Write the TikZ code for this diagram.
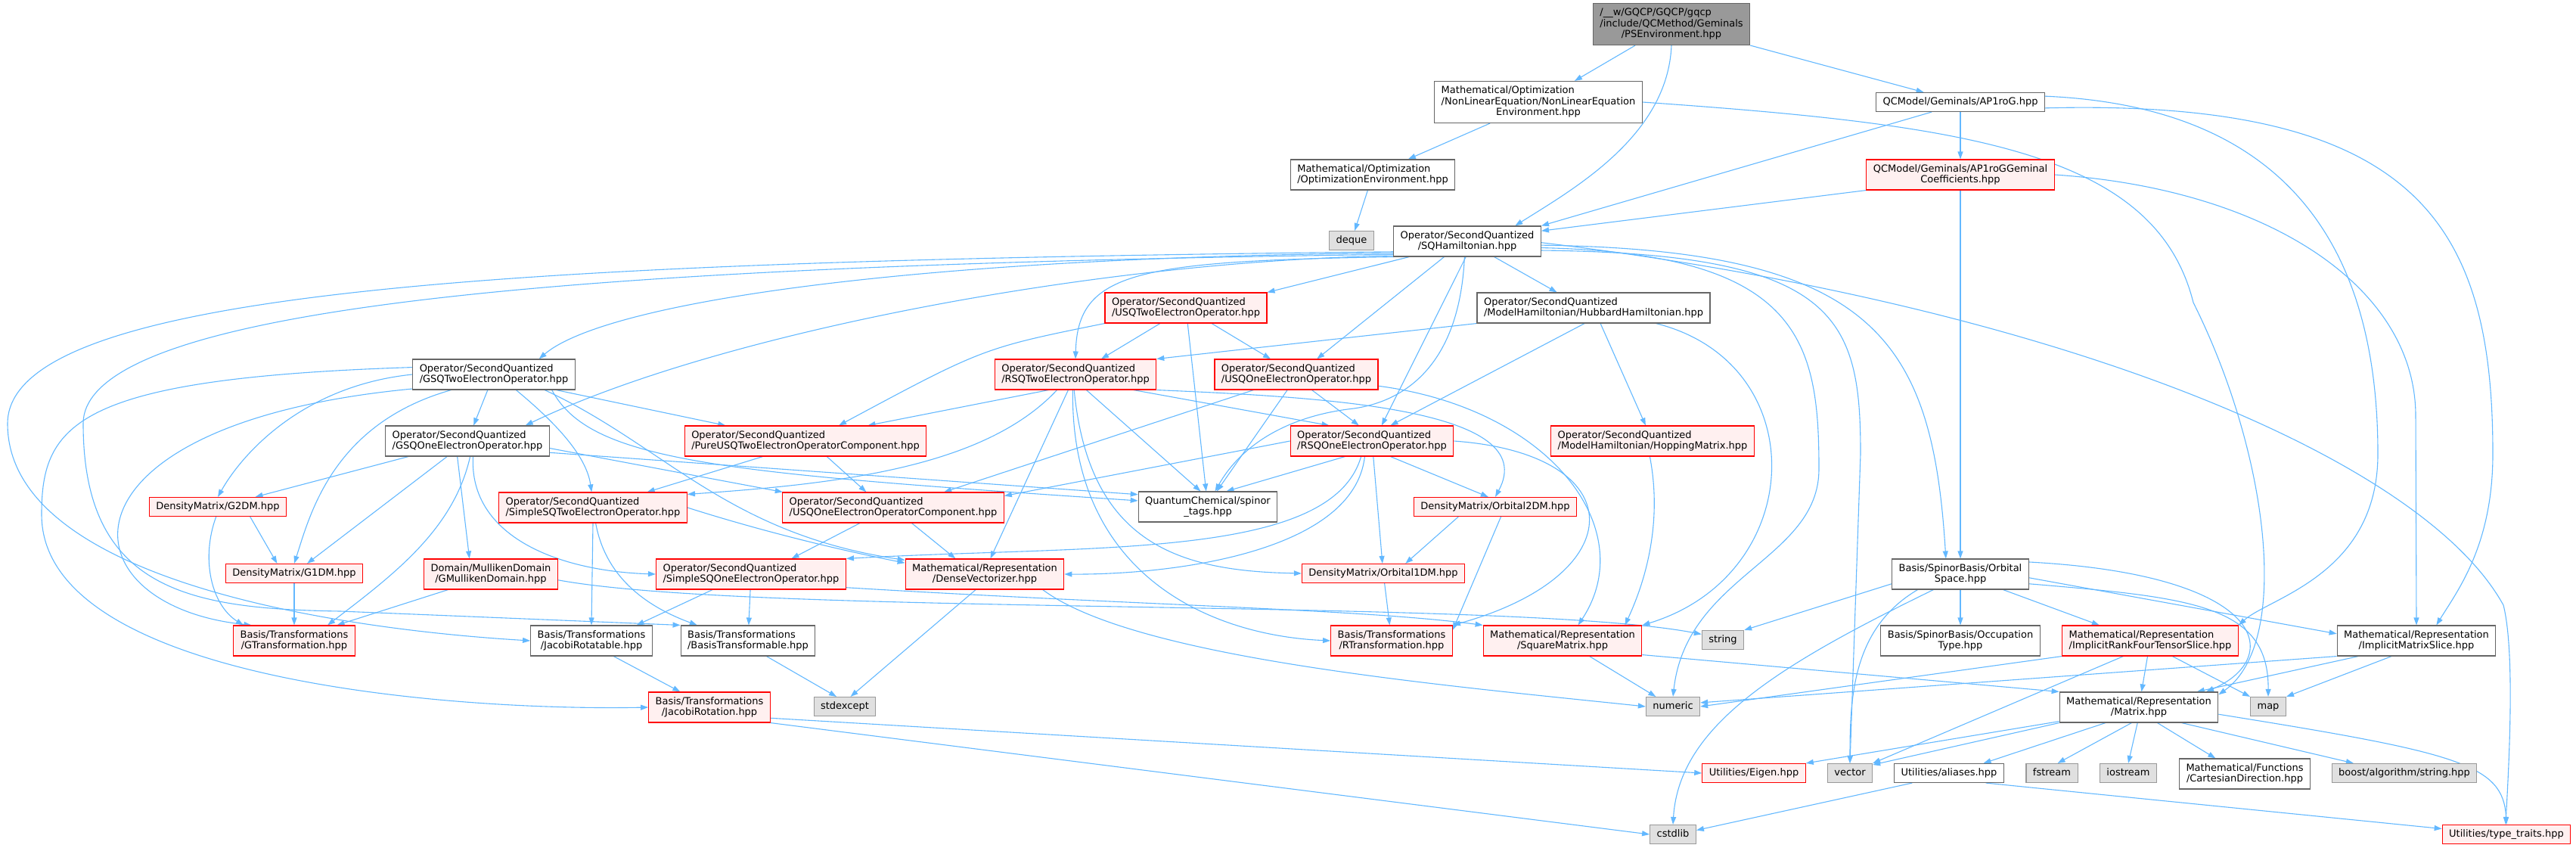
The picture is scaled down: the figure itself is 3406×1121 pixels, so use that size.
\documentclass[tikz,border=0pt]{standalone}
\usepackage{fontspec}
\setmainfont{DejaVu Sans}
\usetikzlibrary{arrows.meta}
\definecolor{depblue}{HTML}{63B8FF}
\definecolor{boxgray}{HTML}{666666}
\definecolor{truncpink}{HTML}{FFF0F0}
\definecolor{sysgray}{HTML}{999999}
\definecolor{sysfill}{HTML}{E0E0E0}
\definecolor{focusgray}{HTML}{999999}
\pgfdeclarelayer{edges}
\pgfsetlayers{edges,main}
\newcommand{\fstrut}{\rule[-3.9pt]{0pt}{14.3pt}}
\renewcommand{\arraystretch}{0}
\newcommand{\hdrone}[1]{\begin{tabular}{@{}c@{}}\fstrut#1\end{tabular}}
\newcommand{\hdrtwo}[2]{\begin{tabular}{@{}l@{}}\fstrut#1\\\multicolumn{1}{@{}c@{}}{\fstrut#2}\end{tabular}}
\newcommand{\hdrthree}[3]{\begin{tabular}{@{}l@{}}\fstrut#1\\\fstrut#2\\\multicolumn{1}{@{}c@{}}{\fstrut#3}\end{tabular}}

\begin{document}
\begin{tikzpicture}[x=1pt,y=1pt,
    hdrbox/.style={draw=boxgray,fill=white,line width=1.1pt,inner xsep=9pt,inner ysep=4pt,
      minimum height=25pt,font=\fontsize{13}{14.3}\selectfont},
    trunc/.style={hdrbox,draw=red,fill=truncpink},
    sys/.style={hdrbox,draw=sysgray,fill=sysfill},
    focus/.style={hdrbox,fill=focusgray},
    two/.style={minimum height=40pt},
    three/.style={minimum height=55pt},
    dep/.style={draw=depblue,line width=1.1pt,-{Triangle[length=10pt,width=7pt]}}]
  \useasboundingbox (0,0) rectangle (3406,-1121);
  % rows from top to bottom
  \node[focus,three] (root) at (2210,-32) {\hdrthree{/\_\_w/GQCP/GQCP/gqcp}{/include/QCMethod/Geminals}{/PSEnvironment.hpp}};
  \node[hdrbox,three] (nle) at (2034,-135) {\hdrthree{Mathematical/Optimization}{/NonLinearEquation/NonLinearEquation}{Environment.hpp}};
  \node[hdrbox] (ap1rog) at (2592,-135) {\hdrone{QCModel/Geminals/AP1roG.hpp}};
  \node[hdrbox,two] (optenv) at (1815,-231) {\hdrtwo{Mathematical/Optimization}{/OptimizationEnvironment.hpp}};
  \node[trunc,two] (ap1rogcoef) at (2592,-231) {\hdrtwo{QCModel/Geminals/AP1roGGeminal}{Coefficients.hpp}};
  \node[sys] (deque) at (1787,-318) {\hdrone{deque}};
  \node[hdrbox,two] (sqham) at (1940,-319) {\hdrtwo{Operator/SecondQuantized}{/SQHamiltonian.hpp}};
  \node[trunc,two] (usqtwo) at (1568,-407) {\hdrtwo{Operator/SecondQuantized}{/USQTwoElectronOperator.hpp}};
  \node[hdrbox,two] (hubbard) at (2107,-407) {\hdrtwo{Operator/SecondQuantized}{/ModelHamiltonian/HubbardHamiltonian.hpp}};
  \node[hdrbox,two] (gsqtwo) at (653,-495) {\hdrtwo{Operator/SecondQuantized}{/GSQTwoElectronOperator.hpp}};
  \node[trunc,two] (rsqtwo) at (1422,-495) {\hdrtwo{Operator/SecondQuantized}{/RSQTwoElectronOperator.hpp}};
  \node[trunc,two] (usqone) at (1714,-495) {\hdrtwo{Operator/SecondQuantized}{/USQOneElectronOperator.hpp}};
  \node[hdrbox,two] (gsqone) at (618,-583) {\hdrtwo{Operator/SecondQuantized}{/GSQOneElectronOperator.hpp}};
  \node[trunc,two] (pureusq) at (1065,-583) {\hdrtwo{Operator/SecondQuantized}{/PureUSQTwoElectronOperatorComponent.hpp}};
  \node[trunc,two] (rsqone) at (1814,-583) {\hdrtwo{Operator/SecondQuantized}{/RSQOneElectronOperator.hpp}};
  \node[trunc,two] (hopping) at (2185,-583) {\hdrtwo{Operator/SecondQuantized}{/ModelHamiltonian/HoppingMatrix.hpp}};
  \node[trunc] (g2dm) at (288,-670) {\hdrone{DensityMatrix/G2DM.hpp}};
  \node[trunc,two] (simpletwo) at (784,-671) {\hdrtwo{Operator/SecondQuantized}{/SimpleSQTwoElectronOperator.hpp}};
  \node[trunc,two] (usqonecomp) at (1181,-671) {\hdrtwo{Operator/SecondQuantized}{/USQOneElectronOperatorComponent.hpp}};
  \node[hdrbox,two] (spinortags) at (1597,-670) {\hdrtwo{QuantumChemical/spinor}{\_tags.hpp}};
  \node[trunc] (orb2dm) at (1977,-670) {\hdrone{DensityMatrix/Orbital2DM.hpp}};
  \node[trunc] (g1dm) at (389,-758) {\hdrone{DensityMatrix/G1DM.hpp}};
  \node[trunc,two] (gmulliken) at (649,-759) {\hdrtwo{Domain/MullikenDomain}{/GMullikenDomain.hpp}};
  \node[trunc,two] (simpleone) at (993,-759) {\hdrtwo{Operator/SecondQuantized}{/SimpleSQOneElectronOperator.hpp}};
  \node[trunc,two] (densevec) at (1302,-759) {\hdrtwo{Mathematical/Representation}{/DenseVectorizer.hpp}};
  \node[trunc] (orb1dm) at (1829,-758) {\hdrone{DensityMatrix/Orbital1DM.hpp}};
  \node[hdrbox,two] (orbspace) at (2592,-759) {\hdrtwo{Basis/SpinorBasis/Orbital}{Space.hpp}};
  \node[trunc,two] (gtrans) at (389,-847) {\hdrtwo{Basis/Transformations}{/GTransformation.hpp}};
  \node[hdrbox,two] (jacrotatable) at (782,-847) {\hdrtwo{Basis/Transformations}{/JacobiRotatable.hpp}};
  \node[hdrbox,two] (basistrans) at (989,-847) {\hdrtwo{Basis/Transformations}{/BasisTransformable.hpp}};
  \node[trunc,two] (rtrans) at (1840,-847) {\hdrtwo{Basis/Transformations}{/RTransformation.hpp}};
  \node[trunc,two] (squarematrix) at (2066,-847) {\hdrtwo{Mathematical/Representation}{/SquareMatrix.hpp}};
  \node[sys] (string) at (2278,-846) {\hdrone{string}};
  \node[hdrbox,two] (occtype) at (2592,-847) {\hdrtwo{Basis/SpinorBasis/Occupation}{Type.hpp}};
  \node[trunc,two] (implrank4) at (2843,-847) {\hdrtwo{Mathematical/Representation}{/ImplicitRankFourTensorSlice.hpp}};
  \node[hdrbox,two] (implmatslice) at (3195,-847) {\hdrtwo{Mathematical/Representation}{/ImplicitMatrixSlice.hpp}};
  \node[trunc,two] (jacrotation) at (938,-935) {\hdrtwo{Basis/Transformations}{/JacobiRotation.hpp}};
  \node[sys] (stdexcept) at (1117,-934) {\hdrone{stdexcept}};
  \node[sys] (numeric) at (2212,-934) {\hdrone{numeric}};
  \node[hdrbox,two] (matrix) at (2828,-935) {\hdrtwo{Mathematical/Representation}{/Matrix.hpp}};
  \node[sys] (map) at (2999,-934) {\hdrone{map}};
  \node[trunc] (eigen) at (2319,-1022) {\hdrone{Utilities/Eigen.hpp}};
  \node[sys] (vector) at (2446,-1022) {\hdrone{vector}};
  \node[hdrbox] (aliases) at (2577,-1022) {\hdrone{Utilities/aliases.hpp}};
  \node[sys] (fstream) at (2713,-1022) {\hdrone{fstream}};
  \node[sys] (iostream) at (2814,-1022) {\hdrone{iostream}};
  \node[hdrbox,two] (cartesian) at (2968,-1023) {\hdrtwo{Mathematical/Functions}{/CartesianDirection.hpp}};
  \node[sys] (boost) at (3179,-1022) {\hdrone{boost/algorithm/string.hpp}};
  \node[sys] (cstdlib) at (2212,-1103) {\hdrone{cstdlib}};
  \node[trunc] (typetraits) at (3314,-1103) {\hdrone{Utilities/type\_traits.hpp}};

  \begin{pgfonlayer}{edges}
  % top part
  \draw[dep] (root) -- (nle);
  \draw[dep] (root) -- (ap1rog);
  \draw[dep] (root.south) .. controls (2205,-180) and (2080,-250) .. (sqham.18);
  \draw[dep] (nle) -- (optenv);
  \draw[dep] (nle.east) .. controls (2600,-165) and (2850,-200) .. (2900,-400)
    .. controls (3000,-600) and (3030,-850) .. (matrix.9);
  \draw[dep] (optenv) -- (deque);
  \draw[dep] (ap1rog.-161) -- (sqham.north east);
  \draw[dep] (ap1rog) -- (ap1rogcoef);
  \draw[dep] (ap1rog.4) .. controls (3000,-140) and (3144,-300) .. (3144,-600)
    .. controls (3144,-760) and (3000,-790) .. (implrank4.north east);
  \draw[dep] (ap1rog.-4) .. controls (3200,-130) and (3296,-300) .. (3296,-600)
    .. controls (3296,-720) and (3250,-780) .. (implmatslice.38);
  \draw[dep] (ap1rogcoef.south west) -- (sqham.8);
  \draw[dep] (ap1rogcoef) -- (orbspace);
  \draw[dep] (ap1rogcoef.east) .. controls (3000,-250) and (3194,-380) .. (3194,-550) -- (implmatslice.north);
  % SQHamiltonian
  \draw[dep] (sqham.-171) .. controls (1200,-340) and (800,-400) .. (gsqtwo.19);
  \draw[dep] (sqham.-169) .. controls (1450,-345) and (950,-440) .. (gsqone.15);
  \draw[dep] (sqham.-165) -- (usqtwo.north east);
  \draw[dep] (sqham.-168) .. controls (1500,-345) and (1425,-360) .. (rsqtwo.north);
  \draw[dep] (sqham.-172) .. controls (700,-345) and (10,-380) .. (10,-560)
    .. controls (10,-760) and (420,-830) .. (jacrotatable.west);
  \draw[dep] (sqham.-170) .. controls (800,-350) and (110,-400) .. (110,-560)
    .. controls (110,-780) and (250,-805) .. (450,-808) -- (basistrans.north west);
  \draw[dep] (sqham.-146) -- (usqone.37);
  \draw[dep] (sqham.-95) -- (rsqone.58);
  \draw[dep] (sqham.-100) .. controls (1930,-480) and (1860,-530) .. (1790,-540)
    .. controls (1700,-550) and (1640,-590) .. (spinortags.65);
  \draw[dep] (sqham.-30) -- (hubbard.157);
  \draw[dep] (sqham.-3) .. controls (2480,-330) and (2555,-450) .. (orbspace.133);
  \draw[dep] (sqham.-5) .. controls (2380,-335) and (2405,-450) .. (2405,-620)
    .. controls (2405,-740) and (2230,-760) .. (numeric.north);
  \draw[dep] (sqham.-7) .. controls (2430,-335) and (2460,-420) .. (2460,-600) -- (vector.north);
  \draw[dep] (sqham.-1) .. controls (2700,-400) and (3200,-600) .. (3310,-800)
    .. controls (3325,-860) and (3318,-1000) .. (typetraits.95);
  % Hubbard and USQ two
  \draw[dep] (hubbard.south west) -- (rsqtwo.north east);
  \draw[dep] (hubbard.-120) -- (rsqone.40);
  \draw[dep] (hubbard) -- (hopping);
  \draw[dep] (hubbard.-14) .. controls (2400,-480) and (2390,-760) .. (squarematrix.11);
  \draw[dep] (usqtwo) -- (rsqtwo);
  \draw[dep] (usqtwo) -- (usqone);
  \draw[dep] (usqtwo) -- (spinortags);
  \draw[dep] (usqtwo.south west) .. controls (1300,-460) .. (pureusq.25);
  % GSQ two
  \draw[dep] (gsqtwo) -- (gsqone);
  \draw[dep] (gsqtwo.-14) -- (pureusq.169);
  \draw[dep] (gsqtwo.-35) .. controls (730,-555) and (775,-600) .. (simpletwo.95);
  \draw[dep] (gsqtwo.-15) .. controls (780,-610) and (950,-625) .. (spinortags.175);
  \draw[dep] (gsqtwo.west) .. controls (400,-510) and (320,-600) .. (g2dm.north);
  \draw[dep] (gsqtwo.-160) .. controls (440,-560) and (410,-680) .. (g1dm.north);
  \draw[dep] (gsqtwo.190) .. controls (60,-560) and (80,-800) .. (gtrans.160);
  \draw[dep] (gsqtwo.175) .. controls (100,-500) and (55,-560) .. (55,-680)
    .. controls (55,-900) and (600,-940) .. (jacrotation.west);
  \draw[dep] (gsqtwo.-17) .. controls (880,-590) and (960,-705) .. (densevec.170);
  % RSQ two
  \draw[dep] (rsqtwo.-15) -- (rsqone.160);
  \draw[dep] (rsqtwo.-150) -- (pureusq.14);
  \draw[dep] (rsqtwo.-55) -- (spinortags.115);
  \draw[dep] (rsqtwo.-140) .. controls (1300,-620) and (1100,-640) .. (simpletwo.8);
  \draw[dep] (rsqtwo.south east) .. controls (1750,-525) and (2040,-540) .. (orb2dm.north);
  \draw[dep] (rsqtwo.-95) .. controls (1440,-720) and (1560,-755) .. (orb1dm.west);
  \draw[dep] (rsqtwo.-100) .. controls (1415,-760) and (1600,-840) .. (rtrans.west);
  \draw[dep] (rsqtwo.-115) -- (densevec.70);
  % USQ one
  \draw[dep] (usqone.-45) -- (rsqone.130);
  \draw[dep] (usqone.-160) -- (usqonecomp.17);
  \draw[dep] (usqone.-120) -- (spinortags.60);
  \draw[dep] (usqone.-8) .. controls (2050,-540) and (2170,-700) .. (squarematrix.45);
  % GSQ one
  \draw[dep] (gsqone) -- (g2dm);
  \draw[dep] (gsqone) -- (g1dm);
  \draw[dep] (gsqone.-80) .. controls (600,-700) and (520,-760) .. (gtrans.25);
  \draw[dep] (gsqone.-123) -- (gmulliken.144);
  \draw[dep] (gsqone.-70) .. controls (620,-710) and (740,-755) .. (simpleone.west);
  \draw[dep] (gsqone.-5) -- (usqonecomp.172);
  \draw[dep] (gsqone.-8) -- (spinortags.170);
  % RSQ one
  \draw[dep] (rsqone.west) -- (usqonecomp.6);
  \draw[dep] (rsqone.-150) -- (spinortags.40);
  \draw[dep] (rsqone.-125) .. controls (1760,-740) and (1450,-720) .. (simpleone.north east);
  \draw[dep] (rsqone.-115) .. controls (1790,-730) and (1550,-760) .. (densevec.east);
  \draw[dep] (rsqone.-40) -- (orb2dm.125);
  \draw[dep] (rsqone) -- (orb1dm);
  \draw[dep] (rsqone.east) .. controls (2160,-600) and (2160,-760) .. (rtrans.north east);
  % components
  \draw[dep] (pureusq.-160) -- (simpletwo.16);
  \draw[dep] (pureusq.-36) -- (usqonecomp.150);
  \draw[dep] (hopping.-100) .. controls (2200,-700) and (2170,-780) .. (squarematrix.14);
  \draw[dep] (simpletwo.south) -- (jacrotatable.north);
  \draw[dep] (simpletwo.-80) .. controls (800,-760) and (850,-800) .. (basistrans.163);
  \draw[dep] (simpletwo.east) .. controls (1000,-700) and (1100,-725) .. (densevec.172);
  \draw[dep] (usqonecomp.-155) -- (simpleone.21);
  \draw[dep] (usqonecomp.-40) -- (densevec.152);
  % density matrices
  \draw[dep] (orb2dm.-165) -- (orb1dm.24);
  \draw[dep] (orb2dm.-60) -- (rtrans.10);
  \draw[dep] (g2dm.-17) -- (g1dm.150);
  \draw[dep] (g2dm.-100) .. controls (265,-740) and (280,-800) .. (gtrans.163);
  \draw[dep] (g1dm) -- (gtrans);
  \draw[dep] (orb1dm) -- (rtrans);
  \draw[dep] (gmulliken.-160) -- (gtrans.20);
  \draw[dep] (gmulliken.-5) .. controls (1000,-815) and (2000,-790) .. (string.165);
  % simple one, vectorizer
  \draw[dep] (simpleone.-158) -- (jacrotatable.19);
  \draw[dep] (simpleone) -- (basistrans);
  \draw[dep] (simpleone.-8) .. controls (1500,-800) and (1800,-805) .. (squarematrix.north west);
  \draw[dep] (densevec.-120) -- (stdexcept.60);
  \draw[dep] (densevec.-15) .. controls (1500,-870) and (1900,-905) .. (numeric.west);
  % orbital space
  \draw[dep] (orbspace.-172) -- (string.north east);
  \draw[dep] (orbspace) -- (occtype);
  \draw[dep] (orbspace.-20) -- (implrank4.163);
  \draw[dep] (orbspace.-3) -- (implmatslice.175);
  \draw[dep] (orbspace.10) .. controls (3000,-760) and (3020,-870) .. (matrix.13);
  \draw[dep] (orbspace.-8) .. controls (2900,-790) and (3000,-800) .. (map.north);
  \draw[dep] (orbspace.-160) .. controls (2450,-830) and (2446,-920) .. (vector.north);
  \draw[dep] (orbspace.-150) .. controls (2350,-880) and (2220,-960) .. (cstdlib.north);
  % slices
  \draw[dep] (implrank4.south west) -- (numeric.east);
  \draw[dep] (implrank4) -- (matrix);
  \draw[dep] (implrank4.-35) -- (map.north west);
  \draw[dep] (implrank4.-150) -- (vector.north east);
  \draw[dep] (implmatslice.south west) -- (numeric.8);
  \draw[dep] (implmatslice.-165) -- (matrix.15);
  \draw[dep] (implmatslice.-148) -- (map.north east);
  % transformations
  \draw[dep] (jacrotatable.-35) -- (jacrotation.152);
  \draw[dep] (basistrans.-40) -- (stdexcept.130);
  \draw[dep] (jacrotation.-10) -- (eigen.west);
  \draw[dep] (jacrotation.south east) -- (cstdlib.west);
  \draw[dep] (squarematrix.-30) -- (numeric.150);
  \draw[dep] (squarematrix.-10) -- (matrix.north west);
  % matrix
  \draw[dep] (matrix.-170) -- (eigen.north east);
  \draw[dep] (matrix.south west) -- (vector.20);
  \draw[dep] (matrix.-155) -- (aliases.16);
  \draw[dep] (matrix.-115) -- (fstream.60);
  \draw[dep] (matrix.-95) -- (iostream.north);
  \draw[dep] (matrix.-40) -- (cartesian.152);
  \draw[dep] (matrix.-20) -- (boost.169);
  \draw[dep] (matrix.-5) .. controls (3250,-995) and (3310,-1010) .. (typetraits.north);
  \draw[dep] (aliases.-165) -- (cstdlib.10);
  \draw[dep] (aliases.-15) -- (typetraits.175);
  \end{pgfonlayer}
\end{tikzpicture}
\end{document}
